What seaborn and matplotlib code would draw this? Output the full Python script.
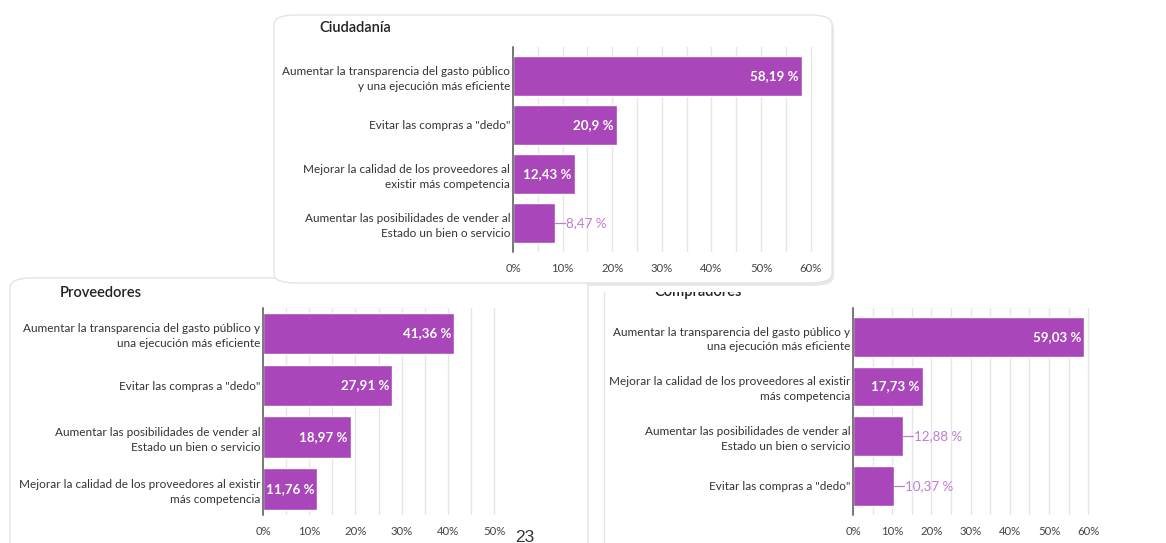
import matplotlib
matplotlib.use("Agg")
import matplotlib.pyplot as plt
import seaborn as sns
from matplotlib.patches import FancyBboxPatch, Rectangle
from matplotlib.lines import Line2D
from matplotlib.ticker import MultipleLocator

# datos
ciud_labels = [
    "Aumentar la transparencia del gasto público\ny una ejecución más eficiente",
    'Evitar las compras a "dedo"',
    "Mejorar la calidad de los proveedores al\nexistir más competencia",
    "Aumentar las posibilidades de vender al\nEstado un bien o servicio",
]
ciud_values = [58.19, 20.9, 12.43, 8.47]

prov_labels = [
    "Aumentar la transparencia del gasto público y\nuna ejecución más eficiente",
    'Evitar las compras a "dedo"',
    "Aumentar las posibilidades de vender al\nEstado un bien o servicio",
    "Mejorar la calidad de los proveedores al existir\nmás competencia",
]
prov_values = [41.36, 27.91, 18.97, 11.76]

comp_labels = [
    "Aumentar la transparencia del gasto público y\nuna ejecución más eficiente",
    "Mejorar la calidad de los proveedores al existir\nmás competencia",
    "Aumentar las posibilidades de vender al\nEstado un bien o servicio",
    'Evitar las compras a "dedo"',
]
comp_values = [59.03, 17.73, 12.88, 10.37]

BAR = "#A846BA"
OUT_LBL = "#C17AD2"
W, H = 1166, 543

sns.set_theme(style="white")
plt.rcParams['font.family'] = ['Lato', 'DejaVu Sans']

fig = plt.figure(figsize=(W / 100, H / 100), dpi=100)
fig.patch.set_facecolor("white")


def fx(x):
    return x / W


def fy(y):
    return 1 - y / H


def card(x0, y0, x1, y1, shadow=False):
    if shadow:
        sh = FancyBboxPatch((fx(x0 + 2), fy(y1 + 3)), fx(x1 - x0), (y1 - y0) / H,
                            boxstyle="round,pad=0,rounding_size=0.018",
                            transform=fig.transFigure, facecolor="#d9d9d9",
                            edgecolor="none", alpha=0.6, zorder=-3)
        fig.patches.append(sh)
    p = FancyBboxPatch((fx(x0), fy(y1)), fx(x1 - x0), (y1 - y0) / H,
                       boxstyle="round,pad=0,rounding_size=0.018",
                       transform=fig.transFigure, facecolor="white",
                       edgecolor="#e4e4e4", linewidth=1.0, zorder=-2)
    fig.patches.append(p)


def panel(labels, values, left, px10, xmax, top, bottom):
    width_px = xmax * px10 / 10
    ax = fig.add_axes([fx(left), fy(bottom), fx(width_px), (bottom - top) / H])
    ax.set_facecolor("none")
    sns.barplot(x=values, y=labels, orient="h", ax=ax, color=BAR,
                saturation=1, width=0.8, zorder=3)
    ax.set_xlim(0, xmax)
    ax.set_xlabel("")
    ax.set_ylabel("")
    for s in ["top", "right", "bottom"]:
        ax.spines[s].set_visible(False)
    ax.spines["left"].set_color("#555555")
    ax.spines["left"].set_linewidth(1.1)
    ax.spines["left"].set_zorder(5)
    ax.xaxis.set_major_locator(MultipleLocator(10))
    ax.xaxis.set_minor_locator(MultipleLocator(5))
    ax.grid(axis="x", which="both", color="#e6e6e6", linewidth=1.0, zorder=0)
    ax.set_axisbelow(True)
    ticks = [t for t in range(0, int(xmax) + 1, 10)]
    ax.set_xticks(ticks)
    ax.set_xticklabels([f"{t}%" for t in ticks], fontsize=8.2, color="#444444")
    ax.tick_params(axis="x", length=0, pad=8)
    ax.tick_params(axis="y", length=0, pad=2)
    for t in ax.get_yticklabels():
        t.set_fontsize(8.5)
        t.set_color("#333333")
        t.set_horizontalalignment("right")
        t.set_multialignment("right")
        t.set_linespacing(1.4)
    for i, v in enumerate(values):
        txt = f"{v:g}".replace(".", ",") + " %"
        if v * px10 / 10 >= 52:
            ax.text(v - 3 * 10 / px10, i, txt, ha="right", va="center",
                    fontsize=9.6, fontweight="bold", color="white", zorder=6)
        else:
            gap = 10 * 10 / px10
            ax.plot([v, v + gap], [i, i], color=OUT_LBL, linewidth=0.9, zorder=4)
            ax.text(v + gap + 1.0 * 10 / px10, i, txt, ha="left", va="center",
                    fontsize=9.6, color=OUT_LBL, zorder=6)
    return ax


# tarjetas de fondo
card(10, 278, 588, 575)
fig.lines.append(Line2D([fx(604), fx(604)], [fy(292), fy(543)],
                        transform=fig.transFigure, color="#e4e4e4",
                        linewidth=1.0, zorder=-2))
card(274, 15, 832, 283, shadow=True)

panel(ciud_labels, ciud_values, 513, 49.6, 61, 47, 252)
panel(prov_labels, prov_values, 263, 46.2, 51, 307.5, 515)
panel(comp_labels, comp_values, 853, 39.2, 61, 307.5, 515)

fig.text(fx(319), fy(28), "Ciudadanía", fontsize=10.5, fontweight="semibold",
         color="#222222", ha="left", va="center")
fig.text(fx(60), fy(293), "Proveedores", fontsize=10.5, fontweight="semibold",
         color="#222222", ha="left", va="center")
t = fig.text(fx(654), fy(292), "Compradores", fontsize=10.5, fontweight="semibold",
             color="#222222", ha="left", va="center")
clip = Rectangle((0, 0), 1, fy(291.5), transform=fig.transFigure)
t.set_clip_path(clip)

fig.text(fx(515), fy(537), "23", fontsize=12.5, family="Liberation Sans",
         color="#333333", ha="left", va="center")

fig.savefig("out.png", dpi=100, facecolor="white")
